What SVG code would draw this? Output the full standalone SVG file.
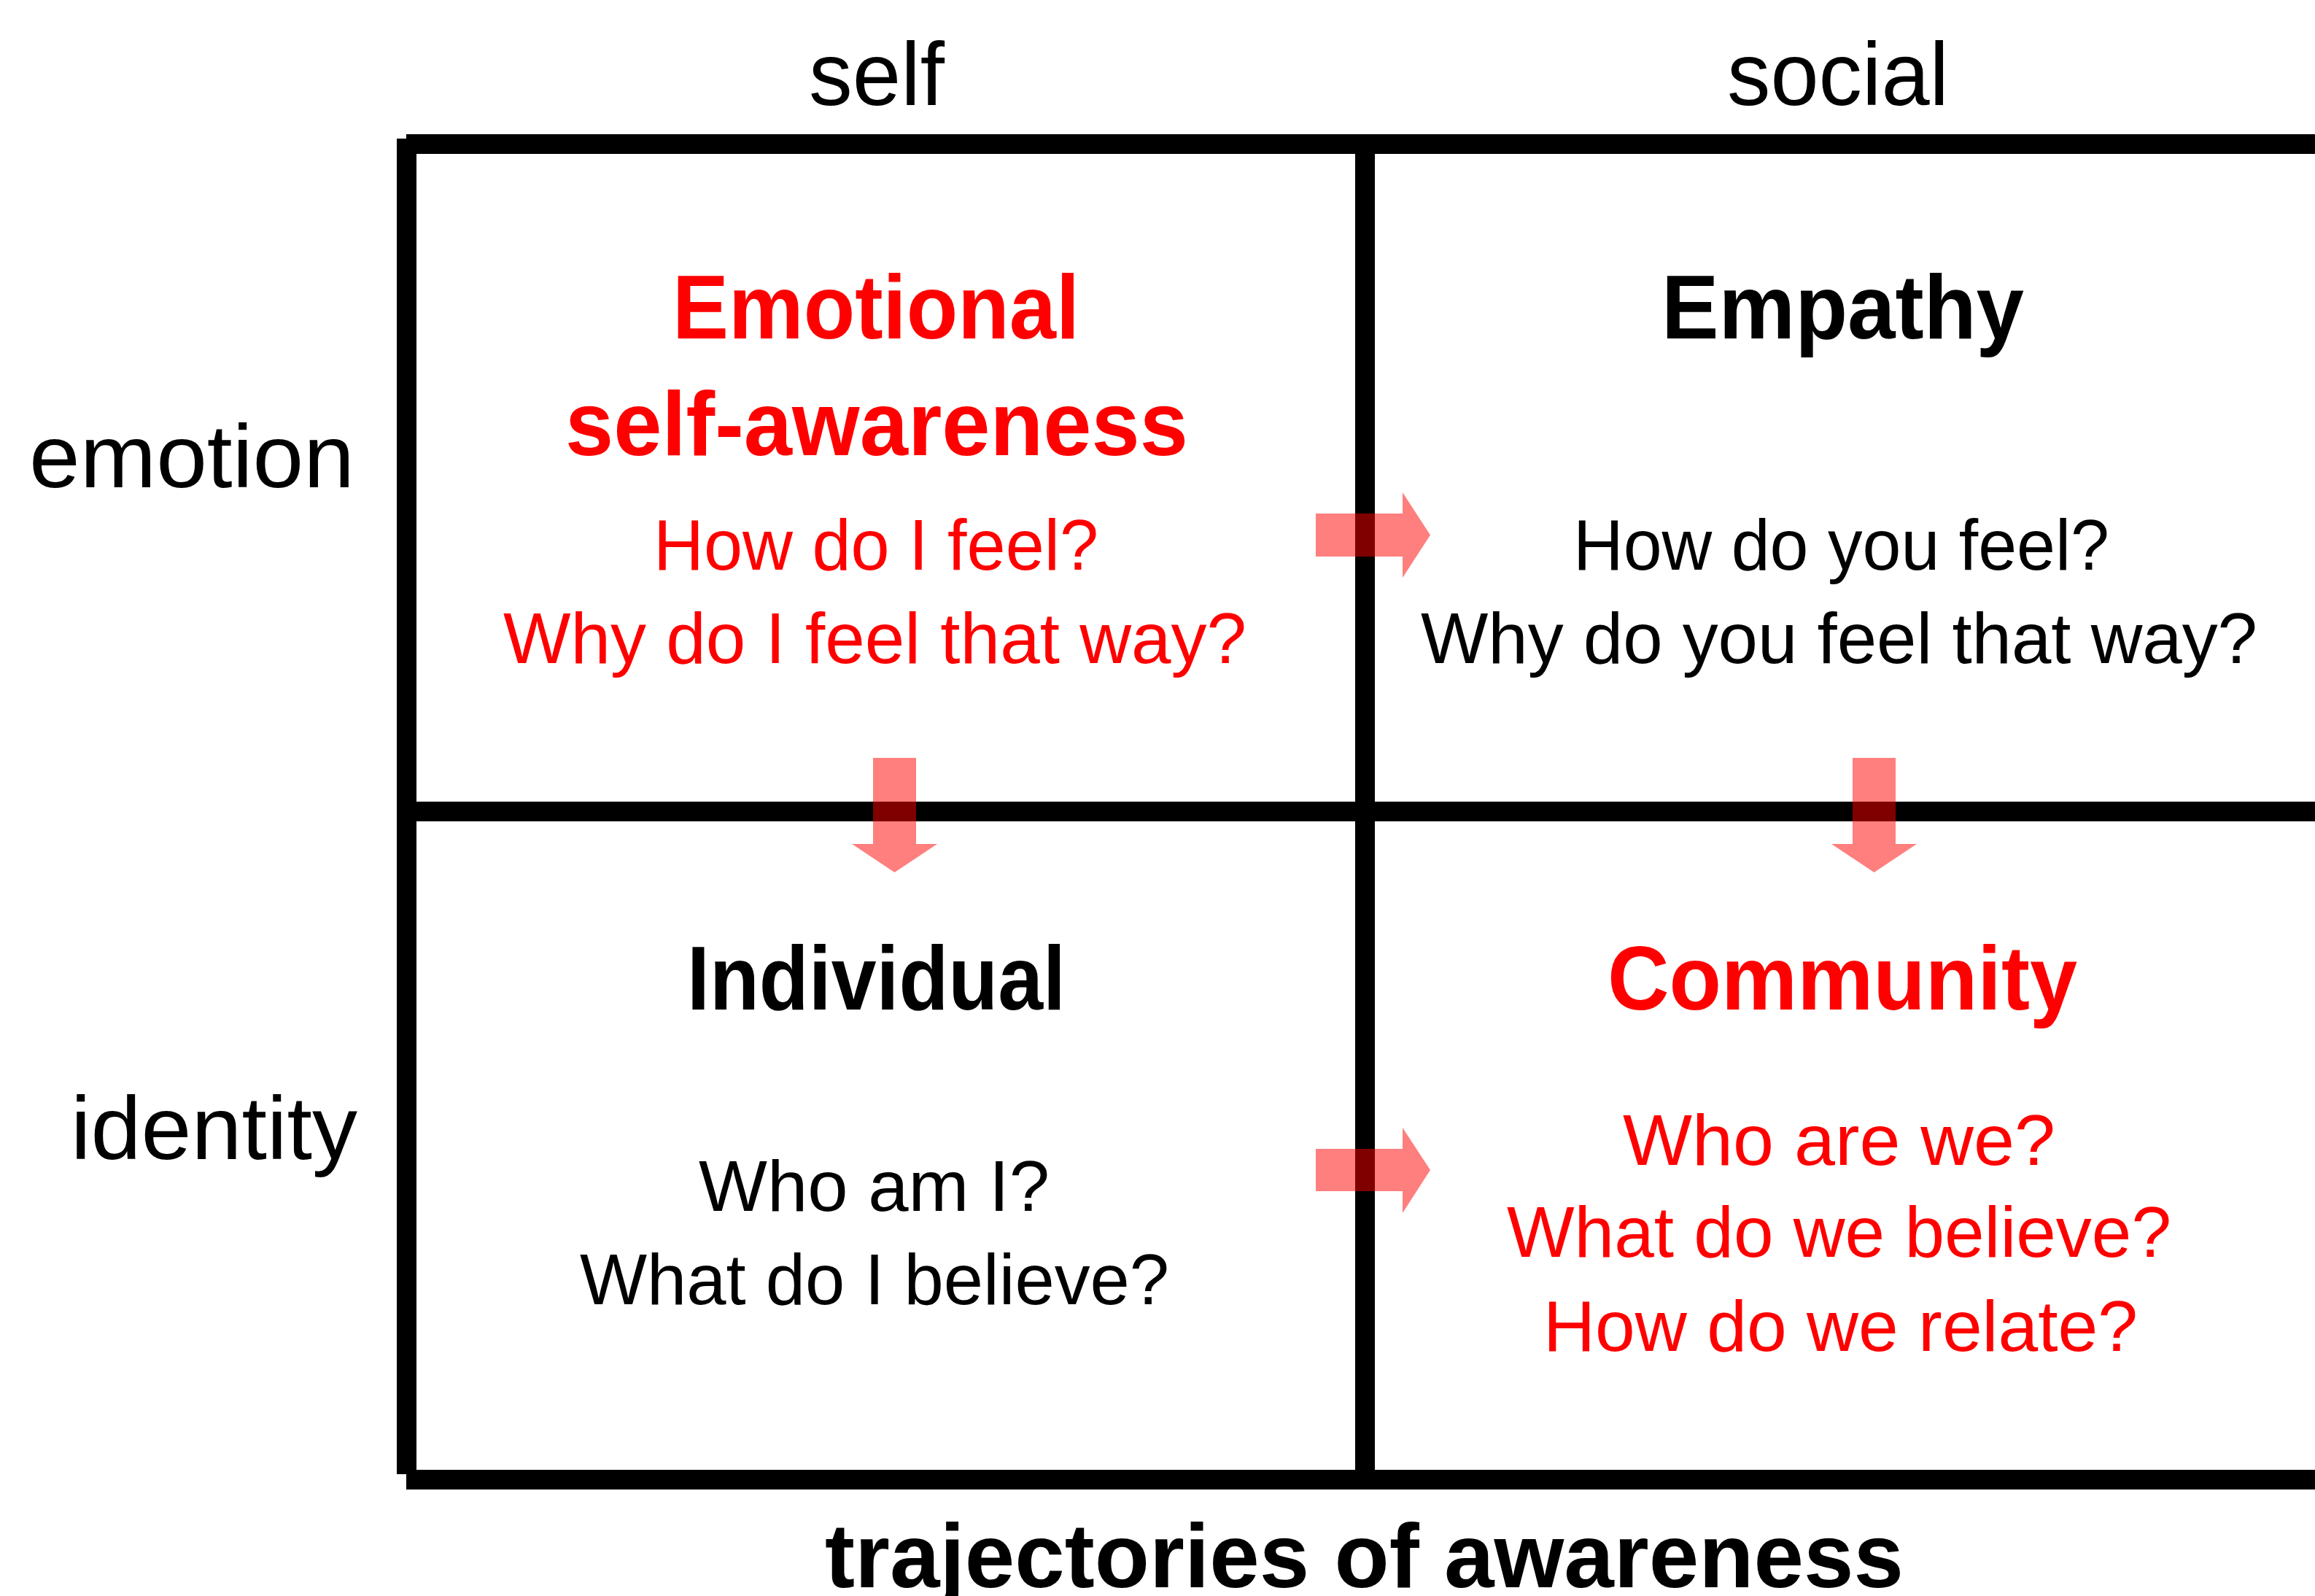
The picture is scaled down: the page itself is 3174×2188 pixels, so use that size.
<svg xmlns="http://www.w3.org/2000/svg" width="3174" height="2188" viewBox="0 0 3174 2188">
  <style>
    text { font-family: "Liberation Sans", Arial, sans-serif; }
    .axis { font-size: 122px; fill: #000; }
    .title { font-size: 124px; font-weight: bold; }
    .q { font-size: 99px; }
    .red { fill: #ff0000; }
    .blk { fill: #000; }
    .grid { fill: #000; }
    .flow { fill: #ff0000; fill-opacity: 0.5; }
  </style>

  <rect x="0" y="0" width="3174" height="2188" fill="#fff"/>

  <!-- column / row headings -->
  <g id="axis-labels">
    <text class="axis" x="1109" y="144" textLength="186" lengthAdjust="spacingAndGlyphs">self</text>
    <text class="axis" x="2368" y="144" textLength="304" lengthAdjust="spacingAndGlyphs">social</text>
    <text class="axis" x="40" y="668" textLength="446" lengthAdjust="spacingAndGlyphs">emotion</text>
    <text class="axis" x="97" y="1589" textLength="393" lengthAdjust="spacingAndGlyphs">identity</text>
    <text class="title blk" x="1131" y="2176" textLength="1479" lengthAdjust="spacingAndGlyphs">trajectories of awareness</text>
  </g>

  <!-- 2x2 grid -->
  <g id="grid">
    <rect class="grid" x="544" y="190" width="27" height="1831"/>
    <rect class="grid" x="557" y="184" width="2617" height="27"/>
    <rect class="grid" x="557" y="2015" width="2617" height="27"/>
    <rect class="grid" x="571" y="1099" width="2603" height="27"/>
    <rect class="grid" x="1858" y="211" width="27" height="1804"/>
  </g>

  <g id="emotional-self-awareness">
    <text class="title red" x="922" y="464" textLength="558" lengthAdjust="spacingAndGlyphs">Emotional</text>
    <text class="title red" x="775" y="624" textLength="854" lengthAdjust="spacingAndGlyphs">self-awareness</text>
    <text class="q red" x="896" y="781" textLength="610" lengthAdjust="spacingAndGlyphs">How do I feel?</text>
    <text class="q red" x="690" y="909" textLength="1019" lengthAdjust="spacingAndGlyphs">Why do I feel that way?</text>
  </g>

  <g id="empathy">
    <text class="title blk" x="2278" y="464" textLength="497" lengthAdjust="spacingAndGlyphs">Empathy</text>
    <text class="q blk" x="2157" y="781" textLength="735" lengthAdjust="spacingAndGlyphs">How do you feel?</text>
    <text class="q blk" x="1948" y="909" textLength="1147" lengthAdjust="spacingAndGlyphs">Why do you feel that way?</text>
  </g>

  <g id="individual">
    <text class="title blk" x="942" y="1384" textLength="519" lengthAdjust="spacingAndGlyphs">Individual</text>
    <text class="q blk" x="958" y="1660" textLength="481" lengthAdjust="spacingAndGlyphs">Who am I?</text>
    <text class="q blk" x="795" y="1788" textLength="808" lengthAdjust="spacingAndGlyphs">What do I believe?</text>
  </g>

  <g id="community">
    <text class="title red" x="2204" y="1384" textLength="644" lengthAdjust="spacingAndGlyphs">Community</text>
    <text class="q red" x="2225" y="1597" textLength="593" lengthAdjust="spacingAndGlyphs">Who are we?</text>
    <text class="q red" x="2066" y="1723" textLength="911" lengthAdjust="spacingAndGlyphs">What do we believe?</text>
    <text class="q red" x="2116" y="1852" textLength="815" lengthAdjust="spacingAndGlyphs">How do we relate?</text>
  </g>

  <!-- translucent block arrows between quadrants -->
  <g id="connectors">
    <polygon class="flow" points="1804,704 1923,704 1923,675 1961,733.5 1923,792 1923,763 1804,763"/>
    <polygon class="flow" points="1804,1575 1923,1575 1923,1546 1961,1604 1923,1663 1923,1633 1804,1633"/>
    <polygon class="flow" points="1197,1039 1256,1039 1256,1157 1285,1157 1226.5,1196 1168,1157 1197,1157"/>
    <polygon class="flow" points="2540,1039 2599,1039 2599,1157 2628,1157 2569.5,1196 2511,1157 2540,1157"/>
  </g>
</svg>
